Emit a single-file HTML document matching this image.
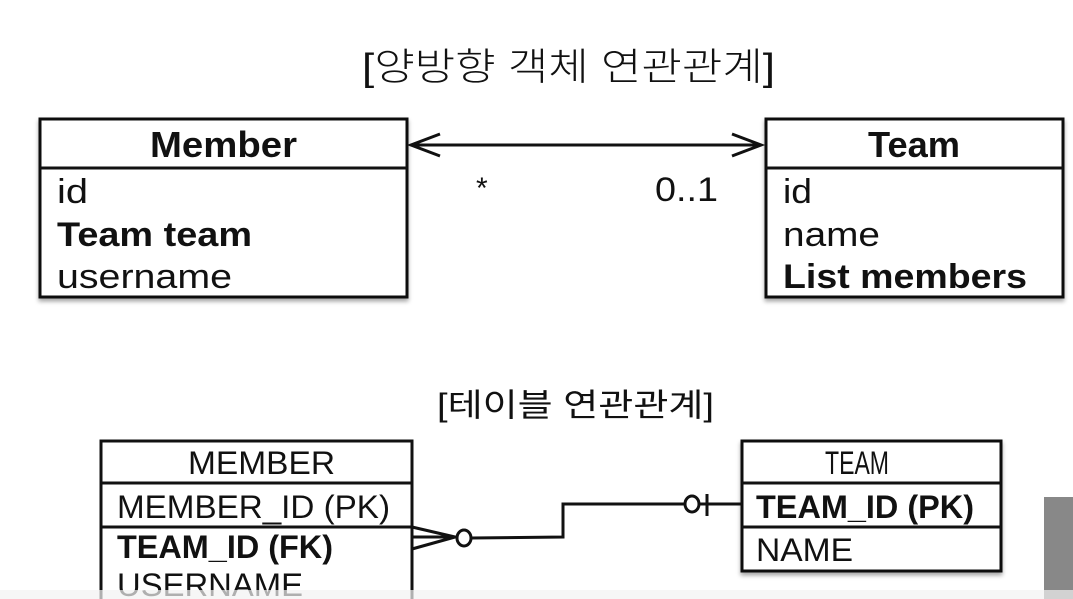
<!DOCTYPE html>
<html><head><meta charset="utf-8"><style>
html,body{margin:0;padding:0;background:#fff;width:1073px;height:599px;overflow:hidden}
svg{display:block}
text{font-family:"Liberation Sans","Noto Sans CJK KR",sans-serif;fill:#111}
</style></head><body>
<svg width="1073" height="599" viewBox="0 0 1073 599" xmlns="http://www.w3.org/2000/svg">
<defs>
<filter id="sh" x="-5%" y="-5%" width="110%" height="115%"><feDropShadow dx="0" dy="3" stdDeviation="2" flood-color="#000" flood-opacity="0.35"/></filter>
</defs>
<text x="362" y="80" font-size="38" textLength="413" lengthAdjust="spacingAndGlyphs" font-weight="300">[양방향 객체 연관관계]</text>
<text x="437" y="416" font-size="32" textLength="277" lengthAdjust="spacingAndGlyphs">[테이블 연관관계]</text>

<!-- Member -->
<rect x="40" y="119" width="367" height="178" fill="#fff" stroke="#111" stroke-width="3" filter="url(#sh)"/>
<line x1="40" y1="168" x2="407" y2="168" stroke="#111" stroke-width="3"/>
<text x="150" y="157" font-size="36" font-weight="bold" textLength="147" lengthAdjust="spacingAndGlyphs">Member</text>
<text x="57" y="203" font-size="34" textLength="31" lengthAdjust="spacingAndGlyphs">id</text>
<text x="57" y="246" font-size="34" font-weight="bold" textLength="195" lengthAdjust="spacingAndGlyphs">Team team</text>
<text x="57" y="288" font-size="34" textLength="175" lengthAdjust="spacingAndGlyphs">username</text>

<!-- Team -->
<rect x="766" y="119" width="297" height="178" fill="#fff" stroke="#111" stroke-width="3" filter="url(#sh)"/>
<line x1="766" y1="168" x2="1063" y2="168" stroke="#111" stroke-width="3"/>
<text x="868" y="157" font-size="36" font-weight="bold" textLength="92" lengthAdjust="spacingAndGlyphs">Team</text>
<text x="783" y="203" font-size="34" textLength="29" lengthAdjust="spacingAndGlyphs">id</text>
<text x="783" y="246" font-size="34" textLength="97" lengthAdjust="spacingAndGlyphs">name</text>
<text x="783" y="288" font-size="34" font-weight="bold" textLength="244" lengthAdjust="spacingAndGlyphs">List members</text>

<!-- arrow -->
<line x1="411" y1="145" x2="761" y2="145" stroke="#111" stroke-width="3"/>
<polyline points="440,134 411,145 440,156" fill="none" stroke="#111" stroke-width="3"/>
<polyline points="732,134 761,145 732,156" fill="none" stroke="#111" stroke-width="3"/>
<text x="476" y="198" font-size="30">*</text>
<text x="655" y="201" font-size="34" textLength="63" lengthAdjust="spacingAndGlyphs" font-weight="300">0..1</text>

<!-- MEMBER table -->
<rect x="101" y="441" width="311" height="180" fill="#fff" stroke="#111" stroke-width="3"/>
<line x1="101" y1="483" x2="412" y2="483" stroke="#111" stroke-width="3"/>
<line x1="101" y1="527" x2="412" y2="527" stroke="#111" stroke-width="3"/>
<text x="188" y="474" font-size="32" textLength="147" lengthAdjust="spacingAndGlyphs">MEMBER</text>
<text x="117" y="518" font-size="32" textLength="273" lengthAdjust="spacingAndGlyphs" font-weight="300">MEMBER_ID (PK)</text>
<text x="117" y="558" font-size="32" font-weight="bold" textLength="216" lengthAdjust="spacingAndGlyphs">TEAM_ID (FK)</text>
<text x="117" y="596" font-size="32" textLength="186" lengthAdjust="spacingAndGlyphs">USERNAME</text>

<!-- TEAM table -->
<rect x="742" y="441" width="259" height="130" fill="#fff" stroke="#111" stroke-width="3" filter="url(#sh)"/>
<line x1="742" y1="483" x2="1001" y2="483" stroke="#111" stroke-width="3"/>
<line x1="742" y1="527" x2="1001" y2="527" stroke="#111" stroke-width="3"/>
<text x="825" y="474" font-size="32" textLength="64" lengthAdjust="spacingAndGlyphs">TEAM</text>
<text x="756" y="518" font-size="32" font-weight="bold" textLength="218" lengthAdjust="spacingAndGlyphs">TEAM_ID (PK)</text>
<text x="756" y="561" font-size="32" textLength="97" lengthAdjust="spacingAndGlyphs">NAME</text>

<!-- connector -->
<polyline points="412,527 455,537 412,549" fill="none" stroke="#111" stroke-width="3"/>
<line x1="412" y1="537" x2="457" y2="537" stroke="#111" stroke-width="3"/>
<ellipse cx="464" cy="538" rx="7" ry="8" fill="#fff" stroke="#111" stroke-width="3"/>
<polyline points="471,538 563,537 563,504 684,504" fill="none" stroke="#111" stroke-width="3"/>
<ellipse cx="692" cy="504" rx="7" ry="8" fill="#fff" stroke="#111" stroke-width="3"/>
<line x1="699" y1="504" x2="742" y2="504" stroke="#111" stroke-width="3"/>
<line x1="707" y1="494" x2="707" y2="516" stroke="#111" stroke-width="3"/>

<!-- right gray bar & bottom fade -->
<rect x="1044" y="497" width="29" height="102" fill="#888"/>
<rect x="0" y="590" width="1073" height="9" fill="#f2f2f2" opacity="0.7"/>
</svg>
</body></html>
